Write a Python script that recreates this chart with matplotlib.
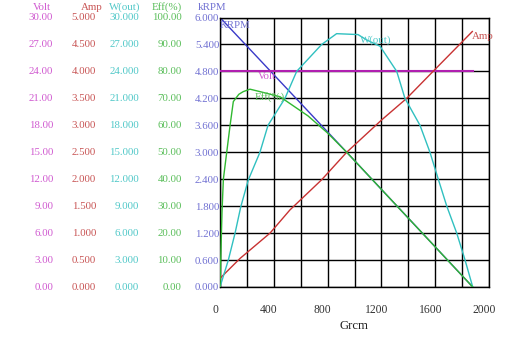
import matplotlib
matplotlib.use("Agg")
import matplotlib.pyplot as plt
import matplotlib.transforms as mtransforms
import numpy as np

# ---------------- data ----------------
torque_ticks = [0, 400, 800, 1200, 1600, 2000]

krpm_x = [0, 942, 1879]
krpm_y = [6.0, 3.0, 0.0]

volt_x = [0, 1884]
volt_y = [24.0, 24.0]

amp_x = [0, 149, 372, 520, 756, 942, 1202, 1388, 1584, 1876]
amp_y = [0.16, 0.53, 1.0, 1.43, 1.99, 2.5, 3.1, 3.5, 4.0, 4.74]

wout_x = [0, 62, 112, 154, 210, 297, 357, 483, 570, 756, 867, 1026, 1091,
          1190, 1314, 1375, 1487, 1561, 1623, 1686, 1760, 1822, 1879]
wout_y = [0, 3.0, 6.0, 8.9, 11.9, 15.0, 18.0, 21.0, 24.0, 27.0, 28.2, 28.1,
          27.5, 26.8, 24.0, 21.0, 18.0, 15.0, 12.0, 9.0, 6.0, 3.0, 0]

eff_x = [0, 8, 15, 25, 50, 75, 99, 140, 173, 223, 297, 446, 654, 803, 942, 1879]
eff_y = [0, 15, 28, 40, 50, 60, 68.8, 71.5, 72.5, 73.4, 72.5, 70.6, 63.5, 57, 50, 0]

volt_ticks = [0, 3, 6, 9, 12, 15, 18, 21, 24, 27, 30]
amp_ticks = [0, 0.5, 1.0, 1.5, 2.0, 2.5, 3.0, 3.5, 4.0, 4.5, 5.0]
wout_ticks = [0, 3, 6, 9, 12, 15, 18, 21, 24, 27, 30]
eff_ticks = [0, 10, 20, 30, 40, 50, 60, 70, 80, 90, 100]
krpm_ticks = [0, 0.6, 1.2, 1.8, 2.4, 3.0, 3.6, 4.2, 4.8, 5.4, 6.0]

# ---------------- style ----------------
FONT = "Liberation Serif"
plt.rcParams['font.family'] = [FONT, 'DejaVu Serif']
FS = 7.8

c_volt_t, c_volt = "#d05ad0", "#b020b0"
c_amp_t, c_amp = "#c85454", "#c83232"
c_w_t, c_w = "#50c8c8", "#30c0c0"
c_eff_t, c_eff = "#5abe5a", "#30b830"
c_k_t, c_k = "#7070d2", "#3a3ac8"

W, H = 530, 350
fig = plt.figure(figsize=(W / 100, H / 100), dpi=100)
left, right, top, bottom = 220, 489, 17.5, 287
ax = fig.add_axes([left / W, 1 - bottom / H, (right - left) / W, (bottom - top) / H])

ax.set_xlim(0, 2000)
ax.set_ylim(0, 6)
ax.set_xticks(torque_ticks)
ax.set_xticks(np.arange(0, 2001, 200), minor=True)
ax.set_xticklabels([str(t) for t in torque_ticks], fontsize=8.4, color="#333333")
ax.set_yticks(krpm_ticks)
ax.set_yticklabels(["%.3f" % v for v in krpm_ticks], fontsize=FS, color=c_k_t)
ax.tick_params(axis='both', which='both', length=0)
ax.tick_params(axis='y', pad=0.5)
ax.tick_params(axis='x', pad=12)
# the reference's tick labels sit a little to the left of their grid lines
shift = mtransforms.ScaledTranslation(-5 / 100, 0, fig.dpi_scale_trans)
for lbl in ax.get_xticklabels():
    lbl.set_transform(lbl.get_transform() + shift)
ax.grid(True, which='both', color='black', linewidth=1.0)
ax.set_axisbelow(True)
for s in ax.spines.values():
    s.set_color('black')
    s.set_linewidth(1.0)
ax.set_xlabel("Grcm", fontsize=9.2, color="#222222", labelpad=3)

# kRPM curve on the main axes
ax.plot(krpm_x, krpm_y, color=c_k, lw=1.0)
ax.text(0, 5.83, "KRPM", color=c_k_t, fontsize=FS, va='center', ha='left')

def twin(ymax):
    t = ax.twinx()
    t.set_ylim(0, ymax)
    t.set_xlim(0, 2000)
    t.set_axis_off()
    return t

ax_v = twin(30)
ax_v.plot(volt_x, volt_y, color=c_volt, lw=1.5)
ax_v.text(283, 23.4, "Volt", color=c_volt_t, fontsize=FS, va='center', ha='left')

ax_a = twin(5)
ax_a.plot(amp_x, amp_y, color=c_amp, lw=1.0)
ax_a.text(1874, 4.64, "Amp", color=c_amp_t, fontsize=FS, va='center', ha='left')

ax_w = twin(30)
ax_w.plot(wout_x, wout_y, color=c_w, lw=1.0)
ax_w.text(1041, 27.5, "W(out)", color=c_w_t, fontsize=FS, va='center', ha='left')

ax_e = twin(100)
ax_e.plot(eff_x, eff_y, color=c_eff, lw=1.0)
ax_e.text(260, 70.5, "Eff(%)", color=c_eff_t, fontsize=FS, va='center', ha='left')

# left-hand value columns
trans = mtransforms.blended_transform_factory(fig.transFigure, ax.transAxes)
cols = [
    (53.3, volt_ticks, "%.2f", c_volt_t, 30),
    (96.0, amp_ticks, "%.3f", c_amp_t, 5),
    (139.3, wout_ticks, "%.3f", c_w_t, 30),
    (181.7, eff_ticks, "%.2f", c_eff_t, 100),
]
for xr, ticks, fmt, col, vmax in cols:
    for v in ticks:
        ax.text(xr / W, v / vmax, fmt % v, transform=trans, ha='right', va='center',
                fontsize=FS, color=col)

headers = [("Volt", 41.7, c_volt_t), ("Amp", 91.3, c_amp_t), ("W(out)", 125, c_w_t),
           ("Eff(%)", 167, c_eff_t), ("kRPM", 212, c_k_t)]
for txt, xc, col in headers:
    fig.text(xc / W, 1 - 7 / H, txt, ha='center', va='center', fontsize=FS, color=col)

fig.savefig("out.png", dpi=100)
